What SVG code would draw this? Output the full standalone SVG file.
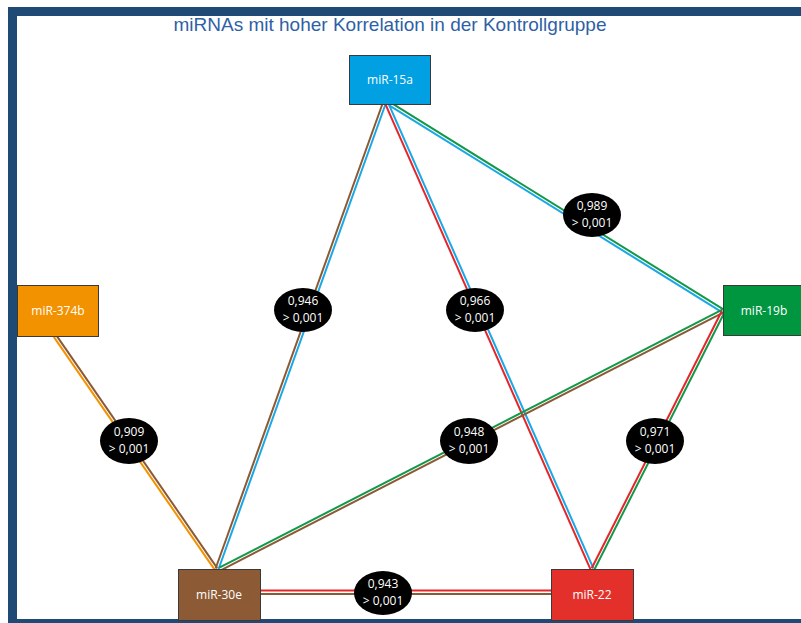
<svg xmlns="http://www.w3.org/2000/svg" width="801" height="623" viewBox="0 0 801 623">
<style>
.frame{fill:#1f4a75}
.node rect{stroke:#3a3a3a;stroke-width:1}
.node text{font-family:"Open Sans","Noto Sans",sans-serif;font-size:12px;fill:#fff;text-anchor:middle}
.edges line{stroke-width:2;fill:none}
.lbl ellipse{fill:#000}
.lbl text{font-family:"Open Sans","Noto Sans",sans-serif;font-size:12px;fill:#fff;text-anchor:middle}
.title{font-family:"Liberation Sans",Arial,sans-serif;font-size:19px;fill:#2f5fa6;text-anchor:middle}
.br{stroke:#8b5a35}.bl{stroke:#1aa7e6}.rd{stroke:#e3262a}.gr{stroke:#12984a}.or{stroke:#f39200}
</style>
<rect width="801" height="623" fill="#fff"/>
<rect class="frame" x="8" y="7" width="793" height="9"/>
<rect class="frame" x="8" y="7" width="9" height="616"/>
<rect class="frame" x="8" y="619" width="793" height="4"/>
<text class="title" x="390" y="31">miRNAs mit hoher Korrelation in der Kontrollgruppe</text>
<g id="connectors" class="edges">
<line class="br" x1="382.6" y1="103.5" x2="215.6" y2="568.5"/>
<line class="bl" x1="385.4" y1="104.5" x2="218.4" y2="569.5"/>
<line class="rd" x1="385.6" y1="104.6" x2="590.6" y2="569.6"/>
<line class="bl" x1="388.4" y1="103.4" x2="593.4" y2="568.4"/>
<line class="gr" x1="390.8" y1="102.7" x2="723.8" y2="309.7"/>
<line class="bl" x1="389.2" y1="105.3" x2="722.2" y2="312.3"/>
<line class="or" x1="53.8" y1="336.9" x2="214.8" y2="569.9"/>
<line class="br" x1="56.2" y1="335.1" x2="217.2" y2="568.1"/>
<line class="gr" x1="722.3" y1="309.7" x2="219.3" y2="567.7"/>
<line class="br" x1="723.7" y1="312.3" x2="220.7" y2="570.3"/>
<line class="rd" x1="721.7" y1="311.3" x2="591.7" y2="568.3"/>
<line class="gr" x1="724.3" y1="312.7" x2="594.3" y2="569.7"/>
<line class="rd" x1="260" y1="590.5" x2="551" y2="590.5"/>
<line class="br" x1="260" y1="594" x2="551" y2="594"/>
</g>
<g id="miR-15a" class="node"><rect x="349.5" y="55.5" width="81" height="49" fill="#00a0e3"/><text x="390" y="84">miR-15a</text></g>
<g id="miR-374b" class="node"><rect x="17.5" y="285.5" width="81" height="51" fill="#f39200"/><text x="58" y="315">miR-374b</text></g>
<g id="miR-19b" class="node"><rect x="723.5" y="285.5" width="80" height="50" fill="#009640"/><text x="764" y="315">miR-19b</text></g>
<g id="miR-30e" class="node"><rect x="178.5" y="569.5" width="82" height="51" fill="#8c5a35"/><text x="219" y="599">miR-30e</text></g>
<g id="miR-22" class="node"><rect x="551.5" y="569.5" width="82" height="51" fill="#e3302a"/><text x="592" y="599">miR-22</text></g>
<g id="lbl-946" class="lbl"><ellipse cx="303" cy="310" rx="29" ry="22"/><text x="303" y="305">0,946</text><text x="303" y="322">&gt; 0,001</text></g>
<g id="lbl-966" class="lbl"><ellipse cx="475" cy="310" rx="29" ry="22"/><text x="475" y="305">0,966</text><text x="475" y="322">&gt; 0,001</text></g>
<g id="lbl-989" class="lbl"><ellipse cx="592" cy="215" rx="29" ry="22"/><text x="592" y="210">0,989</text><text x="592" y="227">&gt; 0,001</text></g>
<g id="lbl-909" class="lbl"><ellipse cx="129" cy="441" rx="29" ry="23"/><text x="129" y="436">0,909</text><text x="129" y="453">&gt; 0,001</text></g>
<g id="lbl-948" class="lbl"><ellipse cx="469" cy="441" rx="29" ry="23"/><text x="469" y="436">0,948</text><text x="469" y="453">&gt; 0,001</text></g>
<g id="lbl-971" class="lbl"><ellipse cx="655" cy="441" rx="29" ry="23"/><text x="655" y="436">0,971</text><text x="655" y="453">&gt; 0,001</text></g>
<g id="lbl-943" class="lbl"><ellipse cx="383" cy="593" rx="29" ry="22"/><text x="383" y="588">0,943</text><text x="383" y="605">&gt; 0,001</text></g>
</svg>
